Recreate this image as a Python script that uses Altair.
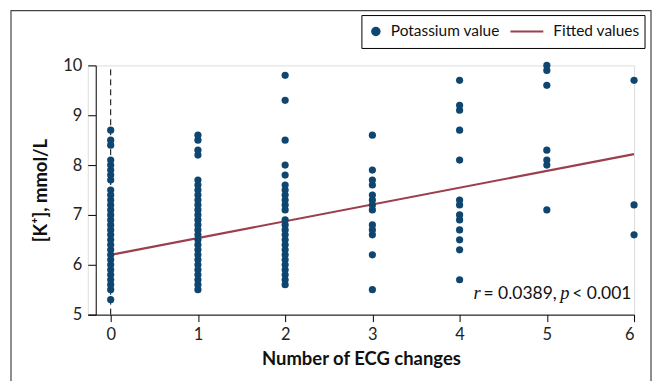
import altair as alt
import pandas as pd

# ---- data ----
ecg_changes = [0, 1, 2, 3, 4, 5, 6]
k_values = [
    [5.3, 5.5, 5.6, 5.7, 5.8, 5.9, 6.0, 6.1, 6.2, 6.3, 6.4, 6.5, 6.6, 6.7, 6.8, 6.9,
     7.0, 7.1, 7.2, 7.3, 7.4, 7.5, 7.7, 7.8, 7.9, 8.0, 8.1, 8.4, 8.5, 8.7],
    [5.5, 5.6, 5.7, 5.8, 5.9, 6.0, 6.1, 6.2, 6.3, 6.4, 6.5, 6.6, 6.7, 6.8, 6.9,
     7.0, 7.1, 7.2, 7.3, 7.4, 7.5, 7.6, 7.7, 8.2, 8.3, 8.5, 8.6],
    [5.6, 5.7, 5.8, 5.9, 6.0, 6.1, 6.2, 6.3, 6.4, 6.5, 6.6, 6.7, 6.8, 6.9,
     7.1, 7.2, 7.3, 7.4, 7.5, 7.6, 7.8, 8.0, 8.5, 9.3, 9.8],
    [5.5, 6.2, 6.6, 6.7, 6.8, 7.1, 7.2, 7.3, 7.4, 7.6, 7.7, 7.9, 8.6],
    [5.7, 6.3, 6.5, 6.7, 6.9, 7.0, 7.2, 7.3, 8.1, 8.7, 9.1, 9.2, 9.7],
    [7.1, 8.0, 8.1, 8.3, 9.6, 9.9, 10.0],
    [6.6, 7.2, 9.7],
]
fit_x = [0, 6]
fit_y = [6.2, 8.22]
x_ticks = [0, 1, 2, 3, 4, 5, 6]
y_ticks = [5, 6, 7, 8, 9, 10]

rows = []
for x, vals in zip(ecg_changes, k_values):
    for v in vals:
        rows.append({"ecg": x, "k": v})
pts_df = pd.DataFrame(rows)
fit_df = pd.DataFrame({"ecg": fit_x, "k": fit_y})
vline_df = pd.DataFrame({"ecg": [0, 0], "k": [5, 10]})

BLUE = "#0f4670"
RED = "#9c3f4c"
FONT = "Lato"

xscale = alt.Scale(domain=[-0.263, 6], nice=False, zero=False)
yscale = alt.Scale(domain=[5, 10], nice=False, zero=False)

xaxis = alt.Axis(values=x_ticks, format="d", title="Number of ECG changes", grid=False,
                 domainColor="black", tickColor="black", tickSize=7,
                 labelFontSize=16.5, labelColor="#222", labelFont=FONT, labelPadding=5,
                 titleFont=FONT, titleFontSize=18.5, titleFontWeight="bold",
                 titleColor="#111", titlePadding=7)
yaxis = alt.Axis(values=y_ticks, format="d", title="[K⁺], mmol/L", grid=False, offset=-8,
                 domainColor="black", tickColor="black", tickSize=8,
                 labelFontSize=16.5, labelColor="#222", labelFont=FONT, labelPadding=6,
                 titleFont=FONT, titleFontSize=18.5, titleFontWeight="bold",
                 titleColor="#111", titlePadding=12)

points = alt.Chart(pts_df).mark_circle(size=52, opacity=1, color=BLUE).encode(
    x=alt.X("ecg:Q", scale=xscale, axis=xaxis),
    y=alt.Y("k:Q", scale=yscale, axis=yaxis),
)

vline = alt.Chart(vline_df).mark_line(color="black", strokeWidth=1, strokeDash=[6, 4]).encode(
    x=alt.X("ecg:Q", scale=xscale), y=alt.Y("k:Q", scale=yscale)
)

fit = alt.Chart(fit_df).mark_line(color=RED, strokeWidth=2.2).encode(
    x=alt.X("ecg:Q", scale=xscale), y=alt.Y("k:Q", scale=yscale)
)

one = pd.DataFrame({"a": [0]})

def txt(s, x, y, italic=False, serif=False, size=16, align="left", baseline="alphabetic"):
    return alt.Chart(one).mark_text(
        text=s, align=align, baseline=baseline, fontSize=size,
        font=("Liberation Serif, Times New Roman, serif" if serif else FONT),
        fontStyle=("italic" if italic else "normal"), color="#111",
    ).encode(x=alt.value(x), y=alt.value(y))

# annotation
ann = [
    txt("r", 387, 234, italic=True, serif=True, size=18.5),
    txt("= 0.0389,", 397, 234, size=17.5),
    txt("p", 474, 234, italic=True, serif=True, size=18.5),
    txt("< 0.001", 486, 234, size=17.5),
]

# legend box
legend_box = alt.Chart(one).mark_rect(fill="white", stroke="black", strokeWidth=1).encode(
    x=alt.value(275), x2=alt.value(559), y=alt.value(-50), y2=alt.value(-17)
)
legend_dot = alt.Chart(one).mark_circle(size=90, opacity=1, color=BLUE).encode(
    x=alt.value(289), y=alt.value(-34)
)
legend_line = alt.Chart(one).mark_rule(color=RED, strokeWidth=2.2).encode(
    x=alt.value(424), x2=alt.value(457), y=alt.value(-34)
)
legend_t1 = txt("Potassium value", 304, -34, size=15.5, baseline="middle")
legend_t2 = txt("Fitted values", 467, -34, size=15.5, baseline="middle")

# outer figure frame
frame = alt.Chart(one).mark_rect(fill=None, stroke="#444", strokeWidth=1.2).encode(
    x=alt.value(-77), x2=alt.value(565), y=alt.value(-55), y2=alt.value(345)
)

chart = alt.layer(
    frame, vline, fit, points, *ann, legend_box, legend_dot, legend_line, legend_t1, legend_t2
).properties(
    width=548, height=250,
    padding={"left": 80, "top": 57, "right": 18, "bottom": 66},
    autosize=alt.AutoSizeParams(type="none"),
).configure_view(stroke=None).configure(background="white")

chart.save("out.html", embed_options={"renderer": "svg", "actions": False})
